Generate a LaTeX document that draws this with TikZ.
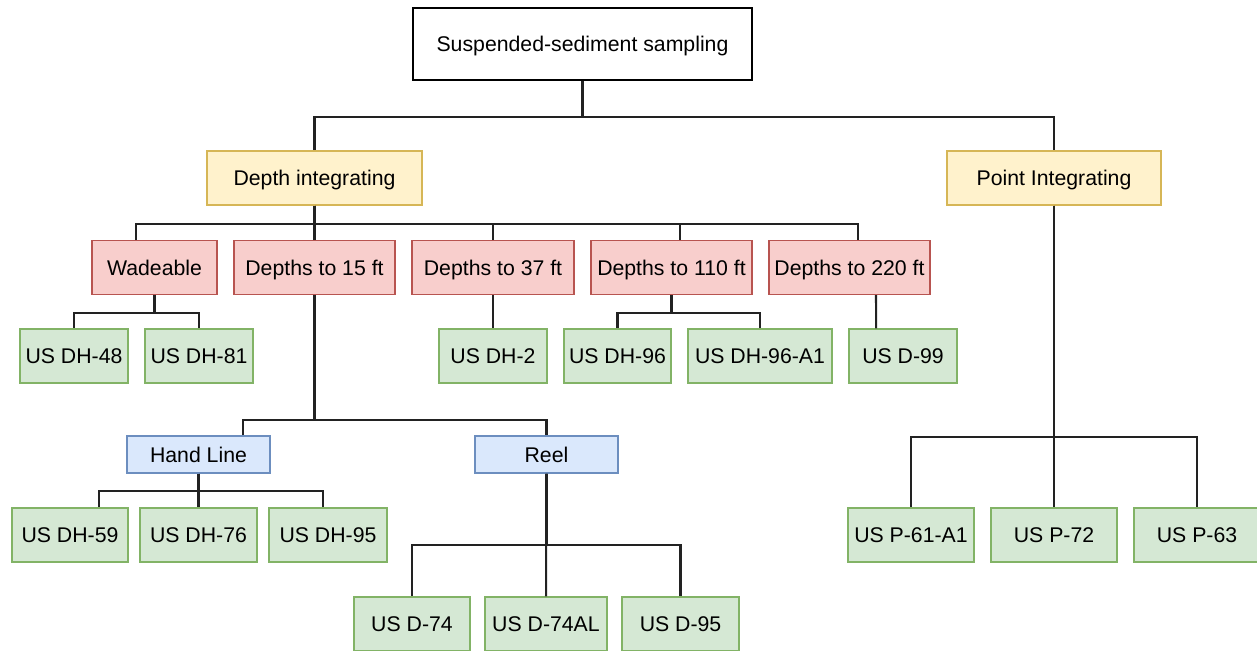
\documentclass[tikz,border=0pt]{standalone}
\usepackage{fontspec}
\setmainfont{Liberation Sans}
\usepackage{tikz}
\usetikzlibrary{arrows.meta,positioning,calc}
\definecolor{YellowFill}{HTML}{FFF2CC}
\definecolor{YellowLine}{HTML}{D6B656}
\definecolor{RedFill}{HTML}{F8CECC}
\definecolor{RedLine}{HTML}{B85450}
\definecolor{GreenFill}{HTML}{D5E8D4}
\definecolor{GreenLine}{HTML}{82B366}
\definecolor{BlueFill}{HTML}{DAE8FC}
\definecolor{BlueLine}{HTML}{6C8EBF}
\definecolor{WhiteFill}{HTML}{FFFFFF}
\definecolor{WhiteLine}{HTML}{000000}
\definecolor{EdgeGray}{HTML}{222222}

\begin{document}
\begin{tikzpicture}[
    x=0.02cm, y=-0.02cm,
    box/.style={rectangle, draw=#1Line, fill=#1Fill, line width=0.85pt,
                inner sep=0pt, minimum height=1.08cm, minimum width=2.16cm,
                text height=1.1em, text depth=0.2em,
                font=\fontsize{12.1}{14}\selectfont, text=black},
    box/.default=Green,
    link/.style={draw=EdgeGray, line width=1.15pt},
]
\useasboundingbox (0,0) rectangle (1257,651);

% ── Root ──
\node[box=White, minimum width=6.78cm, minimum height=1.44cm]
    (root) at (582.5,44) {Suspended-sediment sampling};

% ── Sampling types ──
\node[box=Yellow, minimum width=4.3cm] (depth) at (314.5,178) {Depth integrating};
\node[box=Yellow, minimum width=4.28cm] (point) at (1054,178) {Point Integrating};

% ── Depth classes ──
\node[box=Red, minimum width=2.5cm]  (wade) at (154.5,267.5) {Wadeable};
\node[box=Red, minimum width=3.22cm] (d15)  at (314.5,267.5) {Depths to 15 ft};
\node[box=Red, minimum width=3.24cm] (d37)  at (493,267.5)   {Depths to 37 ft};
\node[box=Red, minimum width=3.22cm] (d110) at (671.5,267.5) {Depths to 110 ft};
\node[box=Red, minimum width=3.22cm] (d220) at (849.5,267.5) {Depths to 220 ft};

% ── Samplers, first row ──
\node[box] (dh48)  at (74,356)    {US DH-48};
\node[box] (dh81)  at (199,356)   {US DH-81};
\node[box] (dh2)   at (493,356)   {US DH-2};
\node[box, minimum width=2.14cm] (dh96)  at (617.5,356) {US DH-96};
\node[box, minimum width=2.88cm] (dh96a) at (760,356)   {US DH-96-A1};
\node[box] (d99)   at (903,356)   {US D-99};

% ── Suspension ──
\node[box=Blue, minimum width=2.86cm, minimum height=0.74cm] (hand) at (198.5,454.5) {Hand Line};
\node[box=Blue, minimum width=2.86cm, minimum height=0.74cm] (reel) at (546.5,454.5) {Reel};

% ── Samplers, second row ──
\node[box, minimum width=2.32cm] (dh59) at (70,535)    {US DH-59};
\node[box, minimum width=2.34cm] (dh76) at (198.5,535) {US DH-76};
\node[box, minimum width=2.36cm] (dh95) at (328,535)   {US DH-95};
\node[box, minimum width=2.52cm] (p61)  at (911,535)   {US P-61-A1};
\node[box, minimum width=2.52cm] (p72)  at (1054,535)  {US P-72};
\node[box, minimum width=2.52cm] (p63)  at (1197,535)  {US P-63};

% ── Samplers, third row ──
\node[box, minimum width=2.32cm] (d74)   at (412,624)   {US D-74};
\node[box, minimum width=2.44cm] (d74al) at (546,624)   {US D-74AL};
\node[box, minimum width=2.34cm] (d95)   at (680.5,624) {US D-95};

% ── Connectors: root ──
\draw[link] (root.south) -- ++(0,36) -| (depth.north);
\draw[link] (root.south) -- ++(0,36) -| (point.north);

% ── Connectors: depth integrating ──
\draw[link] (depth.south) -- ++(0,18) -| ([xshift=-0.37cm]wade.north);
\draw[link] (depth.south) -- (d15.north);
\draw[link] (depth.south) -- ++(0,18) -| (d37.north);
\draw[link] (depth.south) -- ++(0,18) -| ([xshift=0.17cm]d110.north);
\draw[link] (depth.south) -- ++(0,18) -| ([xshift=0.17cm]d220.north);

% ── Connectors: depth classes ──
\draw[link] (wade.south) -- ++(0,17.5) -| (dh48.north);
\draw[link] (wade.south) -- ++(0,17.5) -| (dh81.north);
\draw[link] (d37.south) -- (dh2.north);
\draw[link] (d110.south) -- ++(0,17.5) -| (dh96.north);
\draw[link] (d110.south) -- ++(0,17.5) -| (dh96a.north);
\draw[link] ([xshift=0.53cm]d220.south) -- ([xshift=-0.54cm]d99.north);
\draw[link] (d15.south) -- ++(0,124.5) -| ([xshift=0.89cm]hand.north);
\draw[link] (d15.south) -- ++(0,124.5) -| (reel.north);

% ── Connectors: hand line and reel ──
\draw[link] (hand.south) -- ++(0,17) -| ([xshift=0.58cm]dh59.north);
\draw[link] (hand.south) -- (dh76.north);
\draw[link] (hand.south) -- ++(0,17) -| ([xshift=-0.1cm]dh95.north);
\draw[link] (reel.south) -- ++(0,71) -| (d74.north);
\draw[link] (reel.south) -- (d74al.north);
\draw[link] (reel.south) -- ++(0,71) -| (d95.north);

% ── Connectors: point integrating ──
\draw[link] (point.south) -- ++(0,231) -| (p61.north);
\draw[link] (point.south) -- (p72.north);
\draw[link] (point.south) -- ++(0,231) -| (p63.north);

\end{tikzpicture}
\end{document}
